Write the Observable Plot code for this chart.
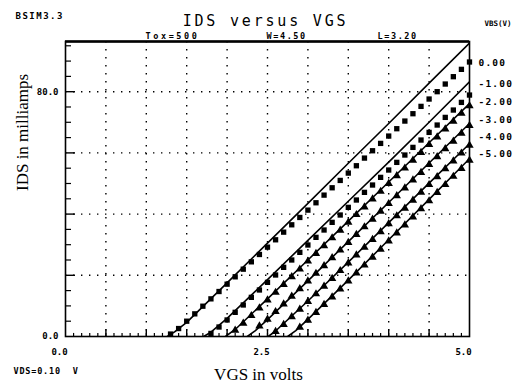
<!DOCTYPE html>
<html><head><meta charset="utf-8">
<script src="https://cdn.jsdelivr.net/npm/d3@7"></script>
<script src="https://cdn.jsdelivr.net/npm/@observablehq/plot@0.6"></script>
<style>body{margin:0;background:#fff}</style>
</head><body><div id="chart"></div>
<script>
// VBS values (volts)
const vbsValues = [0, -1, -2, -3, -4, -5];
const vbsLabels = ["0.00", "-1.00", "-2.00", "-3.00", "-4.00", "-5.00"];
const vbsLabelIds = [89.5, 82.6, 76.7, 70.8, 65.2, 59.7];

// simulated curves (solid lines)
const simVgs0 = [1.26, 1.35, 1.5, 2.0, 2.5, 3.0, 3.5, 4.0, 4.5, 5.0];
const simIds0 = [0, 1.5, 4.6, 17.5, 30.5, 43.5, 56.6, 69.6, 82.8, 95.9];
const simVgs1 = [1.71, 1.8, 2.0, 2.5, 3.0, 3.5, 4.0, 4.5, 5.0];
const simIds1 = [0, 1.4, 5.9, 18.6, 31.4, 44.2, 57.0, 70.0, 83.2];
const simVgs2 = [1.98, 2.1, 2.5, 3.0, 3.5, 4.0, 4.5, 5.0];
const simIds2 = [0, 2.3, 12.3, 25.0, 37.7, 50.5, 63.3, 76.1];
const simVgs3 = [2.25, 2.35, 2.5, 3.0, 3.5, 4.0, 4.5, 5.0];
const simIds3 = [0, 1.9, 5.5, 18.2, 31.0, 43.8, 56.7, 69.6];
const simVgs4 = [2.51, 2.6, 3.0, 3.5, 4.0, 4.5, 5.0];
const simIds4 = [0, 1.8, 11.6, 24.3, 37.2, 50.1, 63.0];
const simVgs5 = [2.75, 2.85, 3.0, 3.5, 4.0, 4.5, 5.0];
const simIds5 = [0, 1.9, 5.6, 18.4, 31.6, 44.8, 58.1];

// measured points (markers)
const measVgs = [1.3,1.4,1.5,1.6,1.7,1.8,1.9,2.0,2.1,2.2,2.3,2.4,2.5,2.6,2.7,2.8,2.9,3.0,3.1,3.2,3.3,3.4,3.5,3.6,3.7,3.8,3.9,4.0,4.1,4.2,4.3,4.4,4.5,4.6,4.7,4.8,4.9,5.0];
const meas0 = [0.8,2.6,5.0,7.4,9.9,12.3,14.7,17.1,19.5,22.0,24.4,26.8,29.2,31.6,34.1,36.5,38.9,41.3,43.7,46.2,48.6,51.0,53.4,55.8,58.3,60.7,63.1,65.5,67.9,70.4,72.8,75.2,77.6,80.0,82.5,84.9,87.3,89.7];
const meas1 = [null,null,null,null,null,1.0,3.1,5.4,7.9,10.3,12.8,15.2,17.7,20.1,22.6,25.0,27.5,29.9,32.4,34.8,37.3,39.7,42.2,44.6,47.1,49.5,52.0,54.4,56.9,59.3,61.8,64.2,66.7,69.1,71.6,74.0,76.5,78.9];
const meas2 = [null,null,null,null,null,null,null,null,2.0,4.3,6.8,9.3,11.9,14.4,17.0,19.5,22.0,24.6,27.1,29.6,32.2,34.7,37.3,39.8,42.3,44.9,47.4,50.0,52.5,55.0,57.6,60.1,62.7,65.2,67.8,70.3,72.9,75.4];
const meas3 = [null,null,null,null,null,null,null,null,null,null,null,3.4,5.6,8.1,10.6,13.1,15.6,18.1,20.6,23.1,25.7,28.2,30.7,33.3,35.8,38.3,40.9,43.4,46.0,48.5,51.1,53.6,56.2,58.7,61.3,63.8,66.4,68.9];
const meas4 = [null,null,null,null,null,null,null,null,null,null,null,null,null,1.6,3.9,6.4,8.9,11.4,13.9,16.4,18.9,21.5,24.0,26.6,29.1,31.7,34.2,36.8,39.4,41.9,44.5,47.1,49.6,52.2,54.8,57.3,59.9,62.5];
const meas5 = [null,null,null,null,null,null,null,null,null,null,null,null,null,null,null,null,3.0,5.3,7.8,10.4,12.9,15.5,18.1,20.7,23.3,25.9,28.5,31.2,33.8,36.4,39.0,41.7,44.3,47.0,49.6,52.3,54.9,57.6];

// axis ticks / grid
const xTickLabels = [0, 2.5, 5.0];
const yTickLabels = [0, 80];
const xGrid = [0.5, 1.0, 1.5, 2.0, 2.5, 3.0, 3.5, 4.0, 4.5];
const yGrid = [20, 40, 60, 80];
const xMinor = d3.range(1, 50).map(i => i / 10);
const xMajor = [0.5, 1.0, 1.5, 2.0, 2.5, 3.0, 3.5, 4.0, 4.5];
const yMinor = [5,10,15,25,30,35,45,50,55,65,70,75,85,90,95];
const yMajor = [20, 40, 60, 80];

const simVgs = [simVgs0, simVgs1, simVgs2, simVgs3, simVgs4, simVgs5];
const simIds = [simIds0, simIds1, simIds2, simIds3, simIds4, simIds5];
const measIds = [meas0, meas1, meas2, meas3, meas4, meas5];

const simData = simVgs.flatMap((xs, k) => xs.map((v, i) => ({vbs: vbsValues[k], vgs: v, ids: simIds[k][i]})));
const measData = measIds.flatMap((ys, k) => ys.map((y, i) => ({k, vbs: vbsValues[k], vgs: measVgs[i], ids: y})).filter(d => d.ids != null));
const labelData = vbsLabels.map((t, i) => ({t, y: vbsLabelIds[i]}));

const mono = "DejaVu Sans Mono";
const fx = 80.8; // px per volt (for tick lengths in data units)

const chart = Plot.plot({
  width: 524, height: 388,
  marginLeft: 65, marginRight: 55, marginTop: 41, marginBottom: 52,
  x: {domain: [0, 5], axis: null},
  y: {domain: [0, 96.4], axis: null},
  marks: [
    Plot.ruleX(xGrid, {stroke: "black", strokeWidth: 1.4, strokeDasharray: "1.4,6.6"}),
    Plot.ruleY(yGrid, {stroke: "black", strokeWidth: 1.4, strokeDasharray: "1.4,6.6"}),
    Plot.ruleX(xMinor, {y1: 0, y2: 1.0, stroke: "black", strokeWidth: 1.2}),
    Plot.ruleX(xMajor, {y1: 0, y2: 2.2, stroke: "black", strokeWidth: 1.4}),
    Plot.ruleY(yMinor, {x1: 0, x2: 6 / fx, stroke: "black", strokeWidth: 1.2}),
    Plot.ruleY(yMajor, {x1: 0, x2: 10 / fx, stroke: "black", strokeWidth: 1.4}),
    Plot.line(simData, {x: "vgs", y: "ids", z: "vbs", stroke: "black", strokeWidth: 1.6, clip: true}),
    Plot.dot(measData, {x: "vgs", y: "ids", symbol: d => d.k < 2 ? "square" : "triangle", r: d => d.k < 2 ? 1.7 : 1.8, fill: "black", stroke: "none"}),
    Plot.frame({stroke: "black", strokeWidth: 1.6}),
    Plot.ruleY([96.4], {stroke: "black", strokeWidth: 2.4}),
    // tick labels
    Plot.text(xTickLabels, {x: d => d, y: 0, text: d => d.toFixed(1), dy: 16, dx: -6, fontFamily: mono, fontWeight: "bold", fontSize: 9}),
    Plot.text(yTickLabels, {x: 0, y: d => d, text: d => d.toFixed(1), dx: -7, textAnchor: "end", fontFamily: mono, fontWeight: "bold", fontSize: 9}),
    // VBS labels at right
    Plot.text(labelData, {x: 5, y: "y", text: "t", dx: 9, textAnchor: "start", fontFamily: mono, fontWeight: "bold", fontSize: 9.5}),
    Plot.text(["VBS(V)"], {frameAnchor: "top-right", dx: 42, dy: -21, textAnchor: "end", fontFamily: mono, fontWeight: "bold", fontSize: 7.5}),
    // header texts
    Plot.text(["BSIM3.3"], {frameAnchor: "top-left", dx: -50, dy: -29, textAnchor: "start", fontFamily: mono, fontWeight: "bold", fontSize: 9}),
    Plot.text(["IDS versus VGS"], {frameAnchor: "top", dx: -2, dy: -26, fontFamily: mono, fontSize: 15}),
    Plot.text(["Tox=500"], {frameAnchor: "top-left", dx: 80, dy: -9, fontFamily: mono, fontWeight: "bold", fontSize: 8.5}),
    Plot.text(["W=4.50"], {frameAnchor: "top-left", dx: 201, dy: -9, fontFamily: mono, fontWeight: "bold", fontSize: 8.5}),
    Plot.text(["L=3.20"], {frameAnchor: "top-left", dx: 312, dy: -9, fontFamily: mono, fontWeight: "bold", fontSize: 8.5}),
    // bottom texts
    Plot.text(["VDS=0.10  V"], {frameAnchor: "bottom-left", dx: -52, dy: 37, textAnchor: "start", fontFamily: mono, fontWeight: "bold", fontSize: 8.5}),
    Plot.text(["VGS in volts"], {frameAnchor: "bottom", dx: -9, dy: 43, fontFamily: "Liberation Serif", fontSize: 17}),
    Plot.text(["IDS in milliamps"], {frameAnchor: "left", dx: -43, dy: 2, rotate: -90, fontFamily: "Liberation Serif", fontSize: 17})
  ]
});
// letter spacing for the plotter-style labels
const spacing = {"BSIM3.3": 1.5, "IDS versus VGS": 2.8, "Tox=500": 2.6, "W=4.50": 1.6, "L=3.20": 1.6, "VDS=0.10  V": 0.8,
  "0.00": 1.2, "-1.00": 1.2, "-2.00": 1.2, "-3.00": 1.2, "-4.00": 1.2, "-5.00": 1.2};
d3.select(chart).selectAll("text").each(function () {
  const s = spacing[this.textContent];
  if (s != null) this.setAttribute("letter-spacing", s);
});
document.getElementById("chart").appendChild(chart);
</script>
</body></html>
